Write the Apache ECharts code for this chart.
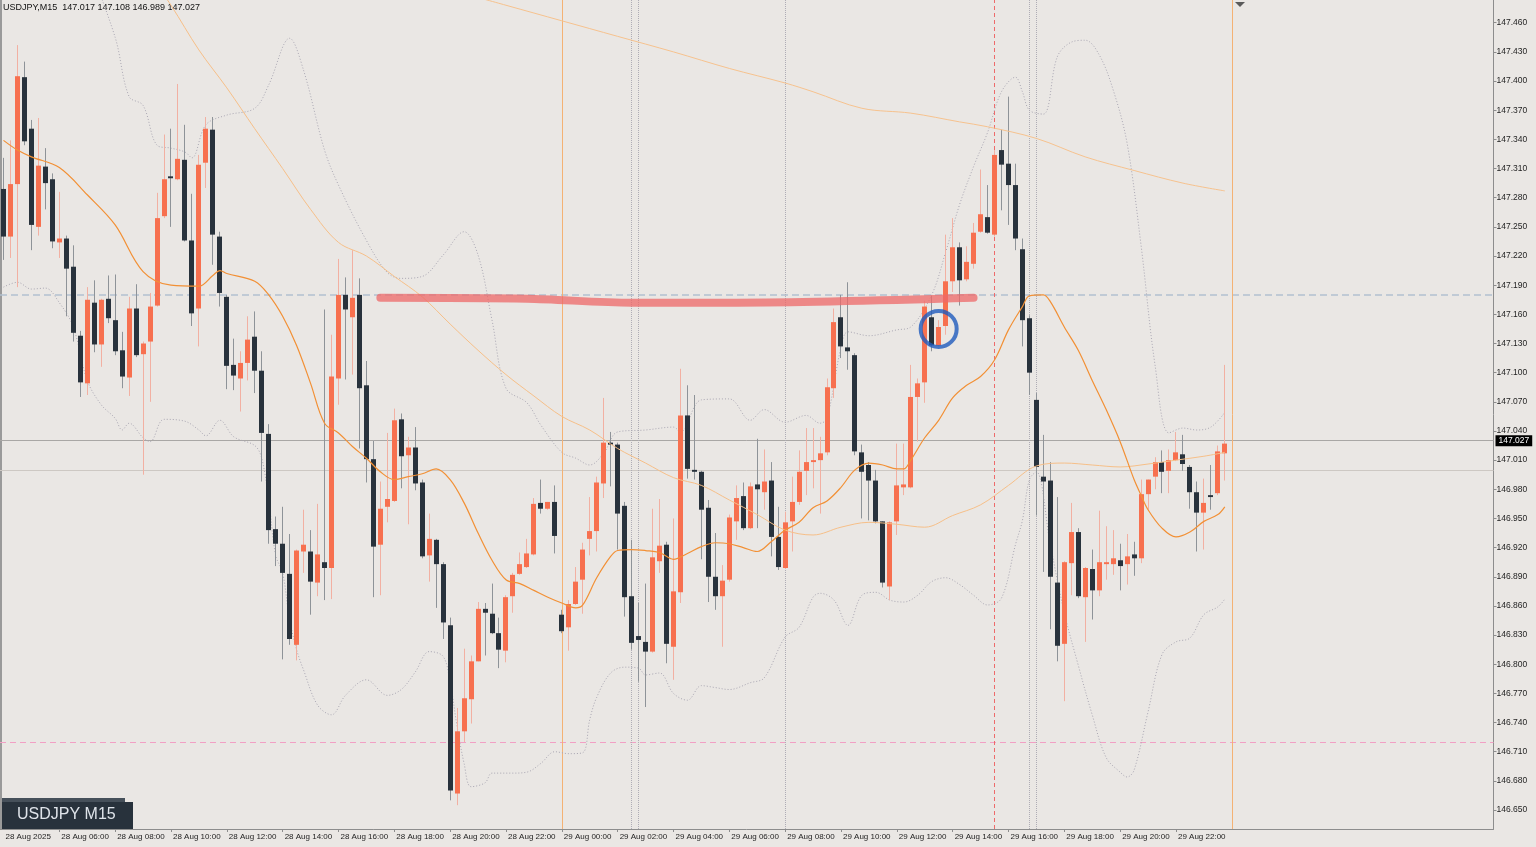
<!DOCTYPE html>
<html><head><meta charset="utf-8">
<script src="https://cdn.jsdelivr.net/npm/echarts@6/dist/echarts.min.js"></script>
<style>html,body{margin:0;padding:0;background:#eae7e4}#c{width:1536px;height:847px}</style>
</head><body><div id="c"></div>
<script>
const symbolName = 'USDJPY';
const timeframe = 'M15';
// candles [open, high, low, close], one per 15 minutes from 28 Aug 04:00
const candles = [
[147.289,147.321,147.216,147.240],[147.240,147.339,147.218,147.294],[147.294,147.437,147.188,147.405],[147.404,147.420,147.334,147.338],
[147.351,147.360,147.226,147.252],[147.250,147.362,147.241,147.313],[147.312,147.331,147.268,147.295],[147.299,147.305,147.228,147.235],
[147.234,147.286,147.218,147.238],[147.238,147.241,147.158,147.207],[147.209,147.231,147.132,147.141],[147.138,147.143,147.075,147.090],
[147.089,147.188,147.077,147.175],[147.172,147.195,147.121,147.129],[147.129,147.176,147.106,147.175],[147.176,147.200,147.151,147.156],
[147.154,147.201,147.118,147.122],[147.123,147.142,147.084,147.096],[147.095,147.178,147.076,147.166],[147.166,147.191,147.116,147.118],
[147.119,147.132,146.995,147.130],[147.132,147.182,147.070,147.168],[147.169,147.285,147.168,147.259],[147.261,147.345,147.259,147.299],
[147.302,147.351,147.250,147.300],[147.299,147.397,147.298,147.320],[147.319,147.355,147.235,147.236],[147.236,147.284,147.148,147.161],
[147.166,147.324,147.127,147.314],[147.316,147.363,147.290,147.351],[147.350,147.363,147.211,147.242],[147.240,147.245,147.168,147.182],
[147.178,147.180,147.083,147.107],[147.108,147.135,147.082,147.097],[147.094,147.122,147.060,147.110],[147.110,147.158,147.092,147.134],
[147.137,147.163,147.079,147.102],[147.102,147.122,146.988,147.038],[147.037,147.047,146.924,146.938],[146.939,146.952,146.901,146.924],
[146.924,146.962,146.805,146.894],[146.893,146.934,146.820,146.826],[146.820,146.918,146.804,146.917],[146.916,146.959,146.894,146.923],
[146.916,146.938,146.851,146.885],[146.884,146.965,146.870,146.913],[146.905,147.165,146.866,146.899],[146.899,147.139,146.867,147.096],
[147.094,147.217,147.067,147.180],[147.180,147.198,147.093,147.165],[147.157,147.226,147.098,147.177],[147.180,147.197,147.022,147.084],
[147.087,147.112,146.987,147.011],[147.011,147.030,146.869,146.921],[146.923,146.988,146.871,146.960],[146.962,147.038,146.946,146.970],
[146.968,147.063,146.967,147.051],[147.052,147.058,146.981,147.014],[147.015,147.034,146.944,147.023],[147.023,147.044,146.979,146.986],
[146.987,146.990,146.909,146.911],[146.912,146.955,146.885,146.929],[146.928,146.929,146.858,146.903],[146.903,146.905,146.826,146.843],
[146.840,146.848,146.660,146.670],[146.667,146.755,146.655,146.731],[146.731,146.816,146.720,146.765],[146.764,146.809,146.739,146.803],
[146.803,146.864,146.803,146.857],[146.857,146.863,146.809,146.853],[146.852,146.883,146.831,146.832],[146.832,146.848,146.796,146.815],
[146.814,146.871,146.802,146.869],[146.870,146.894,146.853,146.892],[146.893,146.915,146.892,146.903],[146.900,146.929,146.899,146.914],
[146.913,146.971,146.912,146.965],[146.966,146.990,146.955,146.960],[146.960,146.967,146.959,146.967],[146.967,146.984,146.914,146.932],
[146.851,146.856,146.832,146.834],[146.838,146.866,146.814,146.862],[146.862,146.900,146.861,146.885],[146.887,146.925,146.852,146.918],
[146.929,146.972,146.912,146.937],[146.937,146.993,146.916,146.987],[146.986,147.074,146.971,147.028],[147.028,147.039,146.983,147.026],
[147.026,147.028,146.918,146.955],[146.963,146.967,146.849,146.869],[146.870,146.928,146.815,146.822],[146.829,146.863,146.782,146.825],
[146.823,146.883,146.756,146.813],[146.813,146.960,146.812,146.910],[146.906,146.970,146.894,146.922],[146.923,146.926,146.801,146.821],
[146.818,146.950,146.784,146.875],[146.874,147.104,146.863,147.056],[147.056,147.087,146.991,147.001],[147.000,147.077,146.990,146.998],
[146.998,146.999,146.908,146.959],[146.961,146.969,146.864,146.890],[146.890,146.935,146.856,146.870],[146.870,146.902,146.818,146.886],
[146.887,146.954,146.885,146.951],[146.947,146.984,146.928,146.971],[146.973,146.987,146.938,146.940],[146.940,146.987,146.939,146.983],
[146.985,147.032,146.940,146.980],[146.977,147.021,146.959,146.988],[146.989,147.008,146.911,146.931],[146.931,146.962,146.897,146.900],
[146.899,146.957,146.898,146.946],[146.947,146.993,146.916,146.967],[146.967,147.020,146.964,146.998],[146.999,147.043,146.974,147.008],
[147.008,147.043,146.981,147.010],[147.010,147.034,146.955,147.017],[147.018,147.094,147.015,147.085],[147.084,147.166,147.074,147.152],
[147.157,147.180,147.115,147.127],[147.126,147.193,147.103,147.122],[147.118,147.120,147.015,147.019],[147.018,147.026,146.950,146.998],
[147.005,147.008,146.948,146.989],[146.989,147.000,146.945,146.947],[146.947,146.947,146.879,146.884],[146.880,146.947,146.866,146.946],
[146.947,147.027,146.933,146.984],[146.982,147.027,146.974,146.985],[146.982,147.108,146.981,147.075],[147.075,147.094,147.029,147.089],
[147.090,147.174,147.069,147.168],[147.157,147.179,147.122,147.128],[147.128,147.154,147.127,147.147],[147.148,147.242,147.139,147.194],
[147.194,147.259,147.183,147.229],[147.229,147.234,147.169,147.195],[147.196,147.230,147.194,147.214],[147.212,147.254,147.207,147.244],
[147.245,147.309,147.244,147.263],[147.260,147.293,147.243,147.244],[147.242,147.329,147.240,147.324],[147.329,147.350,147.267,147.314],
[147.315,147.384,147.252,147.293],[147.293,147.315,147.226,147.238],[147.227,147.238,147.127,147.154],[147.156,147.159,147.077,147.100],
[147.072,147.079,146.953,147.003],[146.993,147.036,146.895,146.988],[146.989,147.008,146.836,146.890],[146.884,146.972,146.803,146.819],
[146.821,146.906,146.762,146.905],[146.904,146.966,146.871,146.936],[146.936,146.940,146.868,146.870],[146.869,146.900,146.823,146.899],
[146.898,146.918,146.846,146.876],[146.876,146.958,146.870,146.905],[146.903,146.942,146.887,146.905],[146.903,146.938,146.892,146.909],
[146.907,146.924,146.876,146.901],[146.903,146.934,146.882,146.911],[146.913,146.926,146.891,146.909],[146.909,146.990,146.904,146.975],
[146.975,146.990,146.959,146.990],[146.993,147.013,146.980,147.008],[147.008,147.020,146.976,146.998],[146.999,147.021,146.976,147.010],
[147.010,147.039,147.009,147.018],[147.016,147.036,146.999,147.006],[147.003,147.005,146.960,146.977],[146.977,146.988,146.916,146.956],
[146.956,146.991,146.918,146.966],[146.974,147.005,146.959,146.972],[146.976,147.025,146.974,147.019],[147.017,147.108,146.989,147.027]
];
// indicator readings [bar index, price]
const maFast = [[0,147.339],[2,147.329],[4,147.322],[8,147.311],[12,147.283],[16,147.252],[20,147.204],[24,147.190],[28,147.189],[30,147.200],[31,147.205],
[32,147.202],[36,147.194],[38,147.180],[40,147.158],[42,147.128],[44,147.089],[46,147.048],[48,147.038],[50,147.024],[52,147.012],[54,146.998],[56,146.990],
[58,146.993],[60,146.996],[62,147.001],[64,146.990],[66,146.966],[68,146.935],[70,146.907],[72,146.887],[74,146.883],[76,146.876],[78,146.869],[80,146.863],
[82,146.858],[83,146.861],[85,146.889],[87,146.911],[88,146.917],[90,146.918],[92,146.917],[94,146.915],[96,146.908],[98,146.914],[100,146.921],[102,146.925],
[104,146.924],[106,146.920],[108,146.916],[110,146.926],[112,146.938],[114,146.946],[116,146.961],[118,146.968],[120,146.982],[122,147.000],[124,147.007],
[126,147.005],[128,147.001],[129,147.001],[130,147.010],[132,147.033],[134,147.051],[136,147.074],[138,147.087],[140,147.096],[142,147.113],[144,147.144],
[146,147.168],[147,147.179],[149,147.180],[150,147.173],[152,147.147],[154,147.123],[156,147.092],[158,147.062],[160,147.029],[162,146.990],[163,146.974],
[164,146.959],[166,146.940],[168,146.931],[170,146.936],[172,146.947],[174,146.954],[175,146.962]];
const maMid = [[20,147.520],[24,147.478],[28,147.432],[32,147.393],[36,147.351],[40,147.310],[44,147.268],[48,147.234],[52,147.220],[56,147.199],[60,147.178],
[64,147.150],[68,147.123],[72,147.098],[76,147.076],[80,147.055],[84,147.041],[88,147.022],[92,147.007],[96,146.992],[100,146.984],[104,146.969],[108,146.954],
[112,146.938],[116,146.933],[120,146.941],[124,146.946],[128,146.944],[132,146.941],[136,146.953],[140,146.964],[144,146.984],[148,147.004],[152,147.007],
[156,147.005],[160,147.003],[164,147.006],[168,147.010],[172,147.014],[175,147.018]];
const maSlow = [[67,147.488],[72,147.478],[80,147.462],[88,147.446],[96,147.430],[104,147.413],[112,147.398],[116,147.389],[123,147.372],[130,147.367],
[137,147.358],[141,147.353],[148,147.341],[155,147.322],[162,147.308],[169,147.295],[175,147.287]];
const bandUpper = [[12,147.524],[16,147.445],[18,147.384],[20,147.375],[22,147.334],[24,147.331],[26,147.327],[27,147.321],[29,147.355],[32,147.365],[36,147.372],
[38,147.396],[41,147.444],[43,147.411],[46,147.329],[48,147.293],[52,147.236],[55,147.203],[57,147.197],[60,147.199],[63,147.221],[66,147.245],[68,147.221],
[70,147.154],[72,147.084],[75,147.069],[77,147.046],[80,147.018],[82,147.012],[84,147.005],[86,147.017],[88,147.039],[92,147.041],[96,147.044],[97,147.039],
[100,147.072],[104,147.073],[107,147.051],[109,147.062],[112,147.049],[115,147.056],[117,147.048],[118,147.053],[120,147.126],[121,147.142],[124,147.138],
[128,147.144],[130,147.147],[133,147.180],[135,147.224],[137,147.273],[139,147.312],[141,147.347],[143,147.389],[145,147.404],[146,147.389],[147,147.370],
[149,147.366],[151,147.425],[153,147.440],[155,147.442],[157,147.427],[159,147.391],[161,147.336],[163,147.231],[165,147.108],[167,147.038],[169,147.043],
[171,147.041],[173,147.044],[175,147.059]];
const bandLower = [[0,147.188],[2,147.193],[4,147.186],[6,147.187],[8,147.172],[10,147.147],[12,147.092],[14,147.067],[16,147.053],[17,147.041],[18,147.048],
[20,147.033],[21,147.029],[23,147.052],[26,147.050],[28,147.041],[29,147.035],[31,147.051],[33,147.034],[36,147.025],[37,147.012],[38,146.969],[39,146.912],
[40,146.894],[41,146.846],[42,146.815],[43,146.794],[45,146.758],[47,146.748],[49,146.768],[52,146.784],[55,146.768],[57,146.774],[59,146.792],[61,146.813],
[63,146.808],[64,146.781],[65,146.736],[66,146.698],[67,146.674],[69,146.678],[70,146.688],[73,146.688],[75,146.689],[77,146.698],[79,146.710],[81,146.708],
[83,146.709],[84,146.743],[85,146.766],[87,146.791],[89,146.797],[91,146.796],[92,146.789],[94,146.791],[96,146.770],[98,146.763],[100,146.778],[102,146.776],
[104,146.774],[107,146.781],[109,146.786],[112,146.828],[114,146.838],[116,146.869],[117,146.873],[119,146.866],[121,146.840],[123,146.871],[125,146.874],
[127,146.866],[129,146.864],[131,146.871],[133,146.885],[135,146.889],[137,146.882],[139,146.871],[141,146.861],[143,146.868],[145,146.923],[146,146.948],
[147,146.990],[148,146.998],[150,146.923],[152,146.853],[154,146.799],[156,146.748],[158,146.704],[160,146.689],[161,146.684],[162,146.691],[164,146.751],
[166,146.810],[168,146.823],[170,146.827],[172,146.851],[174,146.859],[175,146.867]];
// drawn objects
const trendLine = [[54,147.177],[75,147.176],[90,147.172],[105,147.172],[139,147.177]];
const circleMark = [[134,147.145]];
const levelDashed = 147.175, levelPink = 146.724, levelGrey = 147.002;
const vOrange = [80,176], vDotted = [90,91,112,147,148], vRed = [142];
// axes
const yTicks = [146.650,146.680,146.710,146.740,146.770,146.800,146.830,146.860,146.890,146.920,146.950,146.980,147.010,147.040,
147.070,147.100,147.130,147.160,147.190,147.220,147.250,147.280,147.310,147.340,147.370,147.400,147.430,147.460];
const xTickIdx = [0,8,16,24,32,40,48,56,64,72,80,88,96,104,112,120,128,136,144,152,160,168];
const xTickLabels = ['28 Aug 2025','28 Aug 06:00','28 Aug 08:00','28 Aug 10:00','28 Aug 12:00','28 Aug 14:00','28 Aug 16:00','28 Aug 18:00',
'28 Aug 20:00','28 Aug 22:00','29 Aug 00:00','29 Aug 02:00','29 Aug 04:00','29 Aug 06:00','29 Aug 08:00','29 Aug 10:00','29 Aug 12:00',
'29 Aug 14:00','29 Aug 16:00','29 Aug 18:00','29 Aug 20:00','29 Aug 22:00'];
const totalSlots = 214;

const cats = [];
for (let i = 0; i < totalSlots; i++) cats.push('b' + i);
const tickMap = {}; xTickIdx.forEach((k, j) => tickMap[k] = xTickLabels[j]);
const last = candles[candles.length - 1];
const lastClose = last[3];

const FONT = '"Liberation Sans", Arial, sans-serif';
const BULL = '#f7704f', BEAR = '#28323c', WICK_BULL = '#f2b0a2', WICK_BEAR = '#8e9398';

function renderCandle(params, api) {
  const i = api.value(0);
  const o = api.value(1), h = api.value(2), l = api.value(3), c = api.value(4);
  const pO = api.coord([i, o]), pC = api.coord([i, c]), pH = api.coord([i, h]), pL = api.coord([i, l]);
  const bull = c >= o;
  const xc = Math.floor(pO[0]) + 0.5;
  const top = Math.min(pO[1], pC[1]), bot = Math.max(pO[1], pC[1]);
  return { type: 'group', children: [
    { type: 'line', shape: { x1: xc, y1: pH[1], x2: xc, y2: pL[1] }, style: { stroke: bull ? WICK_BULL : WICK_BEAR, lineWidth: 1 } },
    { type: 'rect', shape: { x: xc - 2.5, y: top, width: 5, height: Math.max(bot - top, 1.2) }, style: { fill: bull ? BULL : BEAR } }
  ]};
}

const hLines = [
  { yAxis: levelDashed, lineStyle: { color: '#b3c1d0', type: [7, 4], width: 1.5 } },
  { yAxis: levelPink, lineStyle: { color: '#f2a0c4', type: [6, 4], width: 1 } },
  { yAxis: levelGrey, lineStyle: { color: '#cdc8c3', type: 'solid', width: 1 } },
  { yAxis: lastClose, lineStyle: { color: '#a9a7a5', type: 'solid', width: 1 },
    label: { show: true, position: 'end', distance: 2, formatter: lastClose.toFixed(3), backgroundColor: '#000', color: '#fff',
      padding: [1, 3, 1, 3], fontSize: 8.5, fontFamily: FONT } }
];
const vLines = [];
vOrange.forEach(k => vLines.push({ xAxis: k, lineStyle: { color: '#f4b274', type: 'solid', width: 1 } }));
vDotted.forEach(k => vLines.push({ xAxis: k, lineStyle: { color: '#aeacb5', type: 'dotted', width: 1 } }));
vRed.forEach(k => vLines.push({ xAxis: k, lineStyle: { color: '#ee6a6a', type: [4, 3], width: 1 } }));

const lineBase = { type: 'line', showSymbol: false, symbol: 'none', silent: true, clip: true, animation: false };
const SM = 0.35;

const chart = echarts.init(document.getElementById('c'), null, { renderer: 'canvas' });
chart.setOption({
  animation: false,
  backgroundColor: '#eae7e4',
  grid: { left: -0.8, top: 0, right: 42.5, bottom: 18, containLabel: false },
  xAxis: {
    type: 'category', data: cats, boundaryGap: true,
    axisLine: { show: true, lineStyle: { color: '#8d8d8d', width: 1 } },
    axisTick: { show: true, alignWithLabel: true, length: 3, interval: (idx) => idx !== 0 && tickMap[idx] !== undefined, lineStyle: { color: '#8d8d8d' } },
    axisLabel: { interval: (idx) => tickMap[idx] !== undefined, formatter: (v, idx) => tickMap[idx] || '', align: 'left',
      fontSize: 8, fontFamily: FONT, color: '#1e1e1e', margin: 4, padding: [0, 0, 0, 2] },
    splitLine: { show: false }
  },
  yAxis: {
    type: 'value', position: 'right', min: 146.6305, max: 147.4834, scale: true,
    axisLine: { show: true, lineStyle: { color: '#8d8d8d', width: 1 } },
    axisTick: { show: true, length: 3, customValues: yTicks, lineStyle: { color: '#8d8d8d' } },
    axisLabel: { customValues: yTicks, formatter: (v) => Number(v).toFixed(3), fontSize: 8.5, fontFamily: FONT, color: '#1e1e1e', margin: 3 },
    splitLine: { show: false }
  },
  series: [
    Object.assign({}, lineBase, { name: 'levels', data: [], z: 1,
      markLine: { silent: true, z: 1, symbol: ['none', 'none'], animation: false, label: { show: false }, data: hLines.concat(vLines) } }),
    Object.assign({}, lineBase, { name: 'bbUpper', data: bandUpper, z: 2, smooth: SM, lineStyle: { color: '#a9a6b2', width: 1, type: [1, 2] } }),
    Object.assign({}, lineBase, { name: 'bbLower', data: bandLower, z: 2, smooth: SM, lineStyle: { color: '#a9a6b2', width: 1, type: [1, 2] } }),
    { type: 'custom', name: 'candles', renderItem: renderCandle, z: 3, animation: false, silent: true, clip: false,
      encode: { x: 0, y: [1, 2, 3, 4] },
      data: candles.map((c, i) => [i, c[0], c[1], c[2], c[3]]) },
    Object.assign({}, lineBase, { name: 'maSlow', data: maSlow, z: 4, smooth: SM, lineStyle: { color: '#f6c28e', width: 1 } }),
    Object.assign({}, lineBase, { name: 'maMid', data: maMid, z: 4, smooth: SM, lineStyle: { color: '#f6bf88', width: 1 } }),
    Object.assign({}, lineBase, { name: 'maFast', data: maFast, z: 4, smooth: SM, lineStyle: { color: '#f29035', width: 1.2 } }),
    Object.assign({}, lineBase, { name: 'trend', data: trendLine, z: 5, smooth: 0.3, lineStyle: { color: 'rgba(238,104,104,0.75)', width: 8, cap: 'round', join: 'round' } }),
    { type: 'scatter', name: 'circle', data: circleMark, z: 6, symbol: 'circle', symbolSize: 36, silent: true, animation: false,
      itemStyle: { color: 'rgba(0,0,0,0)', borderColor: '#1f5bbd', borderWidth: 4 } }
  ],
  graphic: [
    { type: 'rect', left: 0, top: 0, shape: { width: 2, height: 829 }, style: { fill: '#9a9a9a' }, silent: true },
    { type: 'text', left: 3, top: 3, style: { text: symbolName + ',' + timeframe + '  ' + last.map(v => v.toFixed(3)).join(' '),
      font: '9px ' + FONT, fill: '#111' }, silent: true },
    { type: 'rect', left: 2, top: 798, shape: { width: 123, height: 5 }, style: { fill: '#46505a' }, silent: true },
    { type: 'rect', left: 2, top: 802, shape: { width: 131, height: 27 }, style: { fill: '#28323c' }, silent: true },
    { type: 'text', left: 17, top: 807, style: { text: symbolName + ' ' + timeframe, font: '16px ' + FONT, fill: '#dfe4ea' }, silent: true },
    { type: 'polygon', shape: { points: [[1235, 2], [1245, 2], [1240, 7]] }, style: { fill: '#5a5a5a' }, silent: true }
  ]
});
</script>
</body></html>
